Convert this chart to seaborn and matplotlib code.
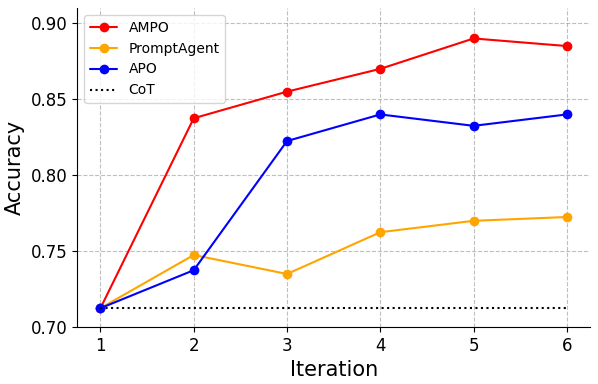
import matplotlib
matplotlib.use("Agg")
import matplotlib.pyplot as plt
import seaborn as sns
import numpy as np
import pandas as pd

iterations = [1, 2, 3, 4, 5, 6]
ampo = [0.7125, 0.8375, 0.855, 0.87, 0.89, 0.885]
prompt_agent = [0.7125, 0.7475, 0.735, 0.7625, 0.77, 0.7725]
apo = [0.7125, 0.7375, 0.8225, 0.84, 0.8325, 0.84]
cot = [0.7125] * 6

sns.set_style("ticks", {"axes.edgecolor": "black", "text.color": "black",
                        "xtick.color": "black", "ytick.color": "black",
                        "axes.labelcolor": "black"})

df = pd.DataFrame({
    "Iteration": iterations * 3,
    "Accuracy": ampo + prompt_agent + apo,
    "Method": ["AMPO"] * 6 + ["PromptAgent"] * 6 + ["APO"] * 6,
})
palette = {"AMPO": "red", "PromptAgent": "orange", "APO": "blue"}

fig, ax = plt.subplots(figsize=(5.98, 3.84), dpi=100)
sns.lineplot(data=df, x="Iteration", y="Accuracy", hue="Method", palette=palette,
             marker="o", markersize=7, markeredgewidth=0, linewidth=1.5, ax=ax)
sns.lineplot(x=iterations, y=cot, color="black", linestyle=":", linewidth=1.5,
             label="CoT", ax=ax)

ax.set_xlim(0.75, 6.25)
ax.set_ylim(0.70, 0.91)
ax.set_xticks(iterations)
ax.set_yticks([0.70, 0.75, 0.80, 0.85, 0.90])
ax.set_yticklabels(["0.70", "0.75", "0.80", "0.85", "0.90"])
ax.tick_params(labelsize=12)
ax.set_xlabel("Iteration", fontsize=15)
ax.set_ylabel("Accuracy", fontsize=15)
ax.grid(True, linestyle="--", color="gray", alpha=0.5)
sns.despine(ax=ax)
ax.legend(loc="upper left", fontsize=10)

fig.subplots_adjust(left=0.129, right=0.987, top=0.979, bottom=0.148)
plt.savefig("out.png", dpi=100)
